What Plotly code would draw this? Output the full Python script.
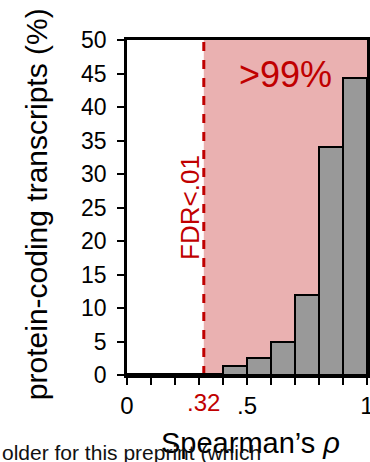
import plotly.graph_objects as go

# Data
bin_left = [0.0, 0.1, 0.2, 0.3, 0.4, 0.5, 0.6, 0.7, 0.8, 0.9]
pct = [0.1, 0.2, 0.2, 0.2, 1.3, 2.6, 4.9, 12.0, 34.1, 44.4]
bin_width = 0.1
fdr_threshold = 0.32
x_tickvals = [0.0, 0.1, 0.2, 0.3, 0.4, 0.5, 0.6, 0.7, 0.8, 0.9, 1.0]
x_ticktext = ["0", "", "", "", "", ".5", "", "", "", "", "1"]
y_tickvals = [0, 5, 10, 15, 20, 25, 30, 35, 40, 45, 50]

FONT = "Liberation Sans, Arial, sans-serif"
RED = "#C00000"

centers = [b + bin_width / 2 for b in bin_left]

fig = go.Figure()
fig.add_trace(go.Bar(
    x=centers, y=pct, width=[bin_width] * len(pct),
    marker=dict(color="#999999", line=dict(color="black", width=2)),
    hoverinfo="skip",
))

# shaded significant region and threshold line
fig.add_shape(type="rect", xref="x", yref="y", x0=fdr_threshold, x1=1.0, y0=0, y1=50,
              fillcolor="#EAB1B1", line=dict(width=0), layer="below")
fig.add_shape(type="line", xref="x", yref="y", x0=fdr_threshold, x1=fdr_threshold, y0=0, y1=50,
              line=dict(color=RED, width=3, dash="dash"), layer="below")

fig.add_annotation(x=0.66, y=44.8, xref="x", yref="y", text=">99%", showarrow=False,
                   font=dict(family=FONT, size=36, color=RED))
fig.add_annotation(x=0.26, y=25.0, xref="x", yref="y", text="FDR<.01", showarrow=False,
                   textangle=-90, font=dict(family=FONT, size=26, color=RED))
fig.add_annotation(x=fdr_threshold, y=0, xref="x", yref="paper", yanchor="top", yshift=-12,
                   text=".32", showarrow=False, font=dict(family=FONT, size=24, color=RED))

# axis titles
fig.add_annotation(x=(36 - 127) / 240, y=0.51, xref="paper", yref="paper",
                   xanchor="center", yanchor="middle", text="protein-coding transcripts (%)",
                   showarrow=False, textangle=-90, font=dict(family=FONT, size=30, color="black"))
fig.add_annotation(x=0.5125, y=(375 - 443) / 335, xref="paper", yref="paper",
                   xanchor="center", yanchor="middle", text="Spearman’s <i>ρ</i>",
                   showarrow=False, font=dict(family=FONT, size=29, color="black"))
# clipped caption fragment from source page
fig.add_annotation(x=-127 / 240, y=(375 - 452) / 335, xref="paper", yref="paper",
                   xanchor="left", yanchor="middle", text="older for this preprint (which",
                   showarrow=False, font=dict(family=FONT, size=21, color="#111111"))

fig.update_layout(
    width=370, height=462,
    margin=dict(l=127, r=3, t=40, b=87, autoexpand=False),
    plot_bgcolor="white", paper_bgcolor="white",
    showlegend=False, bargap=0,
    font=dict(family=FONT, color="black"),
)

fig.update_xaxes(range=[0, 1], tickvals=x_tickvals, ticktext=x_ticktext, automargin=False,
                 ticks="outside", ticklen=7, tickwidth=2, tickcolor="black",
                 ticklabeloverflow="allow",
                 showline=True, linewidth=2.5, linecolor="black", mirror=True,
                 showgrid=False, zeroline=False, tickfont=dict(family=FONT, size=24))
fig.update_yaxes(range=[0, 50], tickvals=y_tickvals, automargin=False,
                 ticks="outside", ticklen=7, tickwidth=2, tickcolor="black",
                 ticklabeloverflow="allow",
                 showline=True, linewidth=2.5, linecolor="black", mirror=True,
                 showgrid=False, zeroline=False, tickfont=dict(family=FONT, size=23),
                 ticklabelstandoff=6)

fig.write_html("out.html", config={"displayModeBar": False},
               post_script="document.body.style.margin='0';document.body.style.overflow='hidden';")
